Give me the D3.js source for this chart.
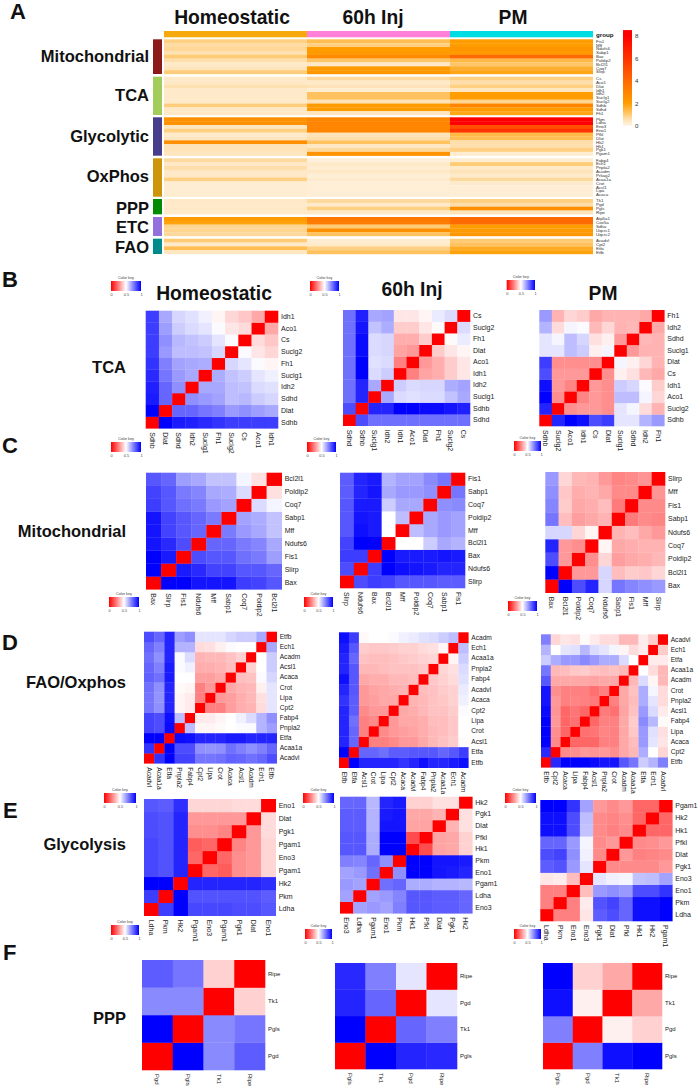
<!DOCTYPE html>
<meta charset="utf-8">
<style>
  body { margin: 0; background: #fff; }
  text { font-family: "Liberation Sans", Arial, sans-serif; fill: #111; }
  .lab { font-weight: bold; }
  .tick line, .domain { display: none; }
</style>
<body>
  <script src="https://d3js.org/d3.v7.min.js"></script>
  <div id="chart"></div>
  <script>
    // ---- panel A, expression per group of genes (order: top to bottom)
    var groupNames = ["Homeostatic", "60h Inj", "PM"]
    var mitoGenes = ["Fis1", "Mff", "Ndufs6", "Sabp1", "Bax", "Poldip2", "Bcl2l1", "Coq7", "Slirp"]
    var mitoHome = [0.9, 0.65, 0.75, 0.55, 1.0, 0.6, 0.3, 0.45, 0.95]
    var mitoInj = [1.3, 0.9, 2.0, 2.1, 2.8, 1.1, 0.3, 2.1, 2.2]
    var mitoPM = [2.0, 2.0, 2.3, 2.1, 4.0, 1.4, 1.1, 1.6, 1.8]
    var tcaGenes = ["Cs", "Aco1", "Dlat", "Idh1", "Idh2", "Suclg1", "Suclg2", "Sdhb", "Sdhd", "Fh1"]
    var tcaHome = [0.3, 0.35, 0.55, 0.3, 0.3, 0.3, 0.3, 0.95, 0.35, 0.35]
    var tcaInj = [0.7, 0.3, 0.5, 0.2, 1.2, 1.2, 0.5, 2.1, 2.1, 0.4]
    var tcaPM = [0.9, 0.6, 0.9, 0.4, 2.0, 2.0, 0.8, 3.0, 2.1, 1.8]
    var glyGenes = ["Pkm", "Ldha", "Eno3", "Eno1", "Pfkl", "Dlat", "Hk2", "Hk1", "Pgk1", "Pgam1"]
    var glyHome = [2.5, 2.5, 0.4, 0.9, 0.3, 0.4, 2.6, 0.5, 0.5, 0.4]
    var glyInj = [3.0, 3.0, 2.9, 3.0, 0.5, 0.6, 1.2, 0.35, 0.7, 2.4]
    var glyPM = [8.0, 8.0, 5.0, 6.0, 1.4, 1.3, 0.6, 0.6, 0.9, 0.2]
    var oxGenes = ["Fabp4", "Ech1", "Pnpla2", "Acadm", "Prkag2", "Acaa1a", "Crot", "Acsl1", "Lipa", "Acaca"]
    var oxHome = [0.7, 0.35, 0.6, 0.35, 0.35, 0.9, 0.2, 0.2, 0.2, 0.2]
    var oxInj = [0.1, 0.3, 0.2, 0.35, 0.15, 0.25, 0.15, 0.15, 0.15, 0.15]
    var oxPM = [0.2, 1.0, 0.3, 0.5, 0.3, 0.7, 0.25, 0.15, 0.15, 0.15]
    var pppGenes = ["Tk1", "Pgd", "Pgls", "Ripe"]
    var pppHome = [0.35, 0.3, 0.35, 0.3]
    var pppInj = [0.7, 0.3, 0.9, 0.3]
    var pppPM = [0.9, 0.6, 2.6, 0.5]
    var etcGenes = ["Atp5a1", "Cox5a", "Sdha", "Uqcrc1", "Uqcrc2"]
    var etcHome = [2.1, 1.9, 0.8, 0.8, 0.7]
    var etcInj = [3.4, 3.2, 1.0, 2.5, 1.2]
    var etcPM = [4.0, 4.0, 2.0, 2.1, 2.2]
    var faoGenes = ["Acadvl", "Cpt2", "Etfa", "Etfb"]
    var faoHome = [1.0, 0.3, 1.3, 0.4]
    var faoInj = [0.2, 0.3, 0.9, 1.2]
    var faoPM = [1.0, 1.2, 1.7, 1.9]
    var exprTicks = [0, 2, 4, 6, 8]
    var keyTicks = [0, 0.5, 1]

    // ---- panels B-F, correlation distance. Order is left to right on x and
    // bottom to top on y, the matrices are symmetric so only one half is kept
    var tcaOrder1 = ["Sdhb", "Dlat", "Sdhd", "Idh2", "Suclg1", "Fh1", "Suclg2", "Cs", "Aco1", "Idh1"]
    var tcaDist1 = [[], [1], [.95, .8], [.94, .8, .72], [.92, .77, .7, .67], [.9, .75, .68, .67, .66],
      [.88, .7, .63, .63, .62, .58], [.88, .72, .64, .62, .6, .55, .51],
      [.88, .69, .6, .57, .55, .51, .45, .43], [.88, .67, .58, .56, .53, .48, .42, .39, .33]]
    var tcaOrder2 = ["Sdhd", "Sdhb", "Suclg1", "Idh2", "Idh1", "Aco1", "Dlat", "Fh1", "Suclg2", "Cs"]
    var tcaDist2 = [[], [.85], [.78, .93], [.78, .93, .67], [.78, 1, .57, .6], [.78, 1, .56, .57, .25],
      [.78, .98, .57, .58, .32, .3], [.78, .98, .57, .58, .34, .34, .4],
      [.78, .96, .62, .66, .4, .4, .45, .49], [.78, .94, .67, .68, .45, .45, .48, .54, .57]]
    var tcaOrder3 = ["Sdhb", "Suclg2", "Aco1", "Idh1", "Cs", "Dlat", "Suclg1", "Sdhd", "Idh2", "Fh1"]
    var tcaDist3 = [[], [.93], [1, .28], [.97, .3, .26], [.85, .3, .3, .3], [.88, .28, .28, .28, .28],
      [.55, .55, .63, .6, .47, .52], [.55, .52, .63, .58, .44, .47, .3],
      [.65, .43, .52, .51, .36, .42, .35, .36], [.7, .35, .42, .4, .33, .35, .35, .35, .33]]

    var mitoOrder1 = ["Bax", "Slirp", "Fis1", "Ndufs6", "Mff", "Sabp1", "Coq7", "Poldip2", "Bcl2l1"]
    var mitoDist1 = [[], [1], [1, .95], [.96, .92, .85], [.96, .87, .83, .8], [.96, .87, .83, .8, .76],
      [.88, .83, .78, .76, .7, .68], [.87, .83, .76, .74, .67, .66, .57],
      [.83, .8, .69, .67, .62, .62, .52, .44]]
    var mitoOrder2 = ["Slirp", "Ndufs6", "Bax", "Bcl2l1", "Mff", "Poldip2", "Coq7", "Sabp1", "Fis1"]
    var mitoDist2 = [[], [.85], [.88, .88], [.87, 1, 1], [.83, .97, .95, .5], [.83, .96, .95, .5, .63],
      [.83, .95, .95, .6, .67, .67], [.82, .93, .96, .67, .7, .7, .72],
      [.82, .93, .95, .65, .68, .68, .73, .77]]
    var mitoOrder3 = ["Bax", "Bcl2l1", "Poldip2", "Coq7", "Ndufs6", "Sabp1", "Fis1", "Mff", "Slirp"]
    var mitoDist3 = [[], [1], [.85, .3], [.93, .3, .28], [.58, .58, .42, .48], [.77, .37, .31, .33, .35],
      [.74, .4, .33, .34, .37, .24], [.72, .39, .34, .35, .33, .27, .27],
      [.7, .42, .36, .35, .3, .26, .27, .29]]

    var faoOrder1 = ["Acadvl", "Acaa1a", "Etfa", "Pnpla2", "Fabp4", "Cpt2", "Lipa", "Crot", "Acaca", "Acsl1", "Acadm", "Ech1", "Etfb"]
    var faoDist1 = [[], [.9], [1, 1], [.87, .85, .98], [.87, .85, .97, .63], [.77, .72, .93, .48, .46],
      [.77, .71, .93, .48, .46, .25], [.78, .72, .93, .49, .48, .25, .3],
      [.81, .78, .95, .5, .5, .31, .31, .33], [.8, .75, .95, .51, .53, .34, .34, .35, .37],
      [.78, .72, .93, .51, .57, .35, .36, .36, .38, .41],
      [.8, .75, .93, .65, .65, .43, .44, .47, .51, .5, .5],
      [.85, .8, .93, .69, .72, .55, .55, .55, .58, .6, .6, .67]]
    var faoOrder2 = ["Etfb", "Etfa", "Acsl1", "Crot", "Lipa", "Cpt2", "Acaca", "Acadvl", "Fabp4", "Pnpla2", "Acaa1a", "Ech1", "Acadm"]
    var faoDist2 = [[], [1], [.93, .8], [.93, .8, .25], [.93, .78, .25, .27], [.93, .82, .27, .3, .3],
      [.9, .82, .3, .31, .33, .33], [.93, .83, .3, .32, .33, .34, .35],
      [.97, .83, .33, .34, .34, .36, .36, .37], [.93, .83, .36, .36, .37, .38, .38, .38, .39],
      [.93, .8, .38, .37, .37, .38, .39, .4, .41, .42],
      [.95, .83, .4, .39, .39, .4, .41, .41, .43, .44, .48],
      [.97, .88, .49, .5, .5, .51, .53, .54, .56, .57, .6, .63]]
    var faoOrder3 = ["Etfb", "Cpt2", "Acaca", "Lipa", "Fabp4", "Acsl1", "Pnpla2", "Crot", "Acadm", "Acaa1a", "Etfa", "Ech1", "Acadvl"]
    var faoDist3 = [[], [.92], [1, .27], [1, .28, .2], [1, .3, .2, .22], [.98, .29, .2, .23, .2],
      [.96, .3, .25, .26, .25, .24], [.96, .28, .25, .25, .25, .22, .25],
      [.83, .33, .33, .33, .33, .32, .33, .33], [.77, .36, .37, .39, .4, .38, .37, .38, .36],
      [.6, .66, .7, .7, .73, .7, .66, .66, .57, .5],
      [.65, .5, .55, .56, .64, .57, .55, .52, .48, .43, .46],
      [.75, .42, .45, .44, .49, .46, .43, .43, .36, .36, .46, .4]]

    // Pgam1 shows up twice in this panel, the trailing space keeps the band keys apart
    var glyOrder1 = ["Ldha", "Pkm", "Hk2", "Pgam1", "Eno3", "Pgam1 ", "Pgk1", "Dlat", "Eno1"]
    var glyDist1 = [[], [.88], [1, 1], [.86, .84, .93], [.86, .84, .93, .2], [.86, .84, .93, .18, .2],
      [.85, .84, .93, .28, .28, .26], [.85, .84, .93, .3, .3, .3, .3],
      [.83, .82, .91, .42, .42, .42, .43, .43]]
    var glyOrder2 = ["Eno3", "Ldha", "Pgam1", "Eno1", "Pkm", "Hk1", "Pfkl", "Dlat", "Pgk1", "Hk2"]
    var glyDist2 = [[], [.68], [.7, .68], [.68, .7, .78], [.75, .74, .8, .72], [.83, .83, .66, 1, 1],
      [.83, .83, .66, 1, 1, .15], [.82, .82, .65, .96, .96, .32, .32],
      [.82, .82, .65, .95, .96, .33, .33, .35], [.8, .8, .64, .93, .95, .41, .41, .44, .44]]
    var glyOrder3 = ["Ldha", "Pkm", "Eno1", "Eno3", "Pgk1", "Dlat", "Pfkl", "Hk1", "Hk2", "Pgam1"]
    var glyDist3 = [[], [.25], [.25, .25], [.45, .46, .37], [.82, .84, .7, .55], [.85, .87, .72, .53, .27],
      [.8, .8, .7, .52, .27, .3], [.97, .97, .85, .62, .27, .25, .27],
      [.97, .97, .85, .63, .27, .26, .28, .2], [1, 1, .9, .68, .3, .27, .3, .2, .2]]

    var pppOrder1 = ["Pgd", "Pgls", "Tk1", "Ripe"]
    var pppDist1 = [[], [1], [.73, .73], [.82, .77, .41]]
    var pppOrder2 = ["Pgls", "Tk1", "Pgd", "Ripe"]
    var pppDist2 = [[], [1], [.93, .8], [.92, .75, .55]]
    var pppOrder3 = ["Pgls", "Pgd", "Tk1", "Ripe"]
    var pppDist3 = [[], [.75], [.97, .47], [1, .41, .33]]

    var width = 700, height = 1090

    var svg = d3.select("#chart").append("svg")
      .attr("width", width).attr("height", height)
      .style("display", "block")

    var defs = svg.append("defs")

    // ---- colour scales
    var exprColor = d3.scaleLinear()
      .domain([0, 0.5, 1, 2, 4, 6, 8])
      .range(["#fef3e2", "#fee3b8", "#ffcb75", "#ff9d00", "#ff6a00", "#ff3300", "#ff0000"])
    var distColor = d3.scaleLinear()
      .domain([0, 0.5, 1])
      .range(["#ff0000", "#ffffff", "#0000ff"])

    // ---- panel letters and big titles
    var letters = [
      { t: "A", x: 10, y: 19 }, { t: "B", x: 2, y: 287 }, { t: "C", x: 2, y: 453 },
      { t: "D", x: 2, y: 650 }, { t: "E", x: 3, y: 818 }, { t: "F", x: 3, y: 960 }
    ]
    svg.selectAll(".letter").data(letters).enter().append("text")
      .attr("class", "lab letter")
      .attr("x", function (d) { return d.x })
      .attr("y", function (d) { return d.y })
      .style("font-size", "22px")
      .text(function (d) { return d.t })

    var titles = [
      { t: groupNames[0], x: 232, y: 24 }, { t: groupNames[1], x: 373, y: 24 }, { t: groupNames[2], x: 513, y: 24 },
      { t: groupNames[0], x: 214, y: 300 }, { t: groupNames[1], x: 412, y: 296 }, { t: groupNames[2], x: 603, y: 300 }
    ]
    svg.selectAll(".title").data(titles).enter().append("text")
      .attr("class", "lab title")
      .attr("x", function (d) { return d.x })
      .attr("y", function (d) { return d.y })
      .attr("text-anchor", "middle")
      .style("font-size", "19.3px")
      .text(function (d) { return d.t })

    var sideLabels = [
      { t: "TCA", y: 373 }, { t: "Mitochondrial", y: 537 }, { t: "FAO/Oxphos", y: 688 },
      { t: "Glycolysis", y: 850 }, { t: "PPP", y: 1024 }
    ]
    svg.selectAll(".side").data(sideLabels).enter().append("text")
      .attr("class", "lab side")
      .attr("x", 126)
      .attr("y", function (d) { return d.y })
      .attr("text-anchor", "end")
      .style("font-size", "16.5px")
      .text(function (d) { return d.t })

    // ---- panel A
    var heatGroups = [
      { name: "Mitochondrial", genes: mitoGenes, vals: [mitoHome, mitoInj, mitoPM], top: 39.3, bot: 74, color: "#8b1a1a", base: 62 },
      { name: "TCA", genes: tcaGenes, vals: [tcaHome, tcaInj, tcaPM], top: 76.7, bot: 115, color: "#a2cd5a", base: 101 },
      { name: "Glycolytic", genes: glyGenes, vals: [glyHome, glyInj, glyPM], top: 117.3, bot: 155.7, color: "#483d8b", base: 142 },
      { name: "OxPhos", genes: oxGenes, vals: [oxHome, oxInj, oxPM], top: 158.3, bot: 196.7, color: "#cd950c", base: 182 },
      { name: "PPP", genes: pppGenes, vals: [pppHome, pppInj, pppPM], top: 199, bot: 214.3, color: "#008b00", base: 214 },
      { name: "ETC", genes: etcGenes, vals: [etcHome, etcInj, etcPM], top: 217, bot: 236, color: "#9370db", base: 233 },
      { name: "FAO", genes: faoGenes, vals: [faoHome, faoInj, faoPM], top: 238.7, bot: 254, color: "#008b8b", base: 253 }
    ]

    var colX = d3.scaleBand().domain(groupNames).range([164, 593])
    var annotColor = d3.scaleOrdinal().domain(groupNames).range(["#f5a90c", "#ff80d8", "#00dde2"])

    var partA = svg.append("g")

    partA.selectAll(".annot").data(groupNames).enter().append("rect")
      .attr("x", function (d) { return colX(d) })
      .attr("y", 31)
      .attr("width", colX.bandwidth())
      .attr("height", 6.3)
      .attr("fill", function (d) { return annotColor(d) })

    partA.append("text").attr("class", "lab")
      .attr("x", 596).attr("y", 37).style("font-size", "6.2px").text("group")

    heatGroups.forEach(function (g) {
      var y = d3.scaleBand().domain(g.genes).range([g.top, g.bot])

      partA.append("rect")
        .attr("x", 153).attr("width", 9)
        .attr("y", g.top).attr("height", g.bot - g.top)
        .attr("fill", g.color)

      partA.append("text").attr("class", "lab")
        .attr("x", 149).attr("y", g.base)
        .attr("text-anchor", "end")
        .style("font-size", "16.5px")
        .text(g.name)

      groupNames.forEach(function (name, c) {
        partA.selectAll(null).data(g.genes).enter().append("rect")
          .attr("x", colX(name))
          .attr("y", function (d) { return y(d) })
          .attr("width", colX.bandwidth())
          .attr("height", y.bandwidth() + 0.2)
          .attr("fill", function (d, i) { return exprColor(g.vals[c][i]) })
      })

      var ax = partA.append("g")
        .attr("transform", "translate(593,0)")
        .call(d3.axisRight(y).tickSize(0).tickPadding(3))
      ax.attr("font-family", null)
      ax.selectAll("text").style("font-size", "4.4px").style("fill", "#333")
    })

    // expression colour bar
    var exprY = d3.scaleLinear().domain([0, 8]).range([125.7, 35.7])
    var exprGrad = defs.append("linearGradient").attr("id", "exprGrad")
      .attr("x1", 0).attr("x2", 0).attr("y1", 1).attr("y2", 0)
    d3.range(0, 8.51, 0.25).forEach(function (v) {
      exprGrad.append("stop").attr("offset", v / 8.5)
        .attr("stop-color", exprColor(Math.min(v, 8)))
    })
    partA.append("rect").attr("x", 623).attr("width", 9)
      .attr("y", exprY(8.5)).attr("height", exprY(0) - exprY(8.5))
      .attr("fill", "url(#exprGrad)")
    var exprAxis = partA.append("g")
      .attr("transform", "translate(632,0)")
      .call(d3.axisRight(exprY).tickValues(exprTicks).tickSize(0).tickPadding(3).tickFormat(d3.format("d")))
    exprAxis.attr("font-family", null)
    exprAxis.selectAll("text").style("font-size", "6.2px").style("fill", "#333")

    // ---- correlation panels
    function fillMatrix(half) {
      return half.map(function (row, i) {
        return half.map(function (_, j) {
          if (i === j) return 0
          return j < i ? half[i][j] : half[j][i]
        })
      })
    }

    function drawMatrix(p) {
      var matrix = fillMatrix(p.dist)
      var ids = p.order
      var x = d3.scaleBand().domain(ids).range([p.x0, p.x1])
      var y = d3.scaleBand().domain(ids).range([p.y1, p.y0])
      var g = svg.append("g")
      var cells = []
      matrix.forEach(function (row, i) {
        row.forEach(function (v, j) { cells.push({ row: ids[i], col: ids[j], v: v }) })
      })
      g.selectAll("rect").data(cells).enter().append("rect")
        .attr("x", function (d) { return x(d.col) })
        .attr("y", function (d) { return y(d.row) })
        .attr("width", x.bandwidth() + 0.3)
        .attr("height", y.bandwidth() + 0.3)
        .attr("fill", function (d) { return distColor(d.v) })

      var fs = (p.fs || 7) + "px"
      var right = g.append("g")
        .attr("transform", "translate(" + p.x1 + ",0)")
        .call(d3.axisRight(y).tickSize(0).tickPadding(3))
      right.attr("font-family", null)
      right.selectAll("text").style("font-size", fs).style("fill", "#222")

      var bottom = g.append("g")
        .attr("transform", "translate(0," + p.y1 + ")")
        .call(d3.axisBottom(x).tickSize(0).tickPadding(0))
      bottom.attr("font-family", null)
      bottom.selectAll("text")
        .style("font-size", fs).style("fill", "#222")
        .style("text-anchor", "start")
        .attr("dy", "0.35em").attr("x", 4).attr("y", 0)
        .attr("transform", "rotate(90)")
    }

    var panels = [
      { order: tcaOrder1, dist: tcaDist1, x0: 145.7, x1: 278, y0: 310.7, y1: 428.3 },
      { order: tcaOrder2, dist: tcaDist2, x0: 343, x1: 470, y0: 310, y1: 425.7 },
      { order: tcaOrder3, dist: tcaDist3, x0: 539.3, x1: 664.3, y0: 310, y1: 426 },
      { order: mitoOrder1, dist: mitoDist1, x0: 146, x1: 281.7, y0: 472.7, y1: 589.3 },
      { order: mitoOrder2, dist: mitoDist2, x0: 340, x1: 465, y0: 472.7, y1: 588 },
      { order: mitoOrder3, dist: mitoDist3, x0: 545.3, x1: 665, y0: 472, y1: 592.7 },
      { order: faoOrder1, dist: faoDist1, x0: 144, x1: 276.7, y0: 631.7, y1: 763.3, fs: 6.6 },
      { order: faoOrder2, dist: faoDist2, x0: 339, x1: 468.3, y0: 632.3, y1: 767.7, fs: 6.6 },
      { order: faoOrder3, dist: faoDist3, x0: 541, x1: 667.7, y0: 634.3, y1: 767.3, fs: 6.6 },
      { order: glyOrder1, dist: glyDist1, x0: 144, x1: 275.7, y0: 799, y1: 915.7 },
      { order: glyOrder2, dist: glyDist2, x0: 340, x1: 472.3, y0: 796.7, y1: 913.3 },
      { order: glyOrder3, dist: glyDist3, x0: 540.3, x1: 672.3, y0: 800, y1: 921 },
      { order: pppOrder1, dist: pppDist1, x0: 142, x1: 265, y0: 960, y1: 1070, fs: 6 },
      { order: pppOrder2, dist: pppDist2, x0: 335, x1: 457, y0: 963, y1: 1069, fs: 6 },
      { order: pppOrder3, dist: pppDist3, x0: 543, x1: 662, y0: 963, y1: 1069, fs: 6 }
    ]
    panels.forEach(drawMatrix)

    // ---- little colour keys
    var keyGrad = defs.append("linearGradient").attr("id", "keyGrad")
    distColor.domain().forEach(function (v) {
      keyGrad.append("stop").attr("offset", v).attr("stop-color", distColor(v))
    })

    var keys = [
      { x0: 111, x1: 141, y: 281 }, { x0: 310, x1: 339, y: 281 }, { x0: 506.7, x1: 535, y: 280 },
      { x0: 111, x1: 141, y: 442 }, { x0: 307, x1: 336, y: 442 }, { x0: 514, x1: 541, y: 441 },
      { x0: 109, x1: 139, y: 597 }, { x0: 304, x1: 333, y: 597 }, { x0: 508, x1: 537, y: 601 },
      { x0: 104, x1: 136, y: 793 }, { x0: 303, x1: 334, y: 793 }, { x0: 505, x1: 536, y: 793 },
      { x0: 111, x1: 139, y: 925 }, { x0: 305, x1: 332, y: 929 }, { x0: 514, x1: 541, y: 929 }
    ]
    keys.forEach(function (k) {
      var kx = d3.scaleLinear().domain([0, 1]).range([k.x0, k.x1])
      var g = svg.append("g")
      g.append("rect")
        .attr("x", k.x0).attr("y", k.y)
        .attr("width", k.x1 - k.x0).attr("height", 10)
        .attr("fill", "url(#keyGrad)")
      g.append("text")
        .attr("x", (k.x0 + k.x1) / 2).attr("y", k.y - 2.5)
        .attr("text-anchor", "middle")
        .style("font-size", "3.8px").style("fill", "#444")
        .text("Color key")
      var ax = g.append("g")
        .attr("transform", "translate(0," + (k.y + 10) + ")")
        .call(d3.axisBottom(kx).tickValues(keyTicks).tickSize(0).tickPadding(2).tickFormat(d3.format("")))
      ax.attr("font-family", null)
      ax.selectAll("text").style("font-size", "3.8px").style("fill", "#444")
    })
  </script>
</body>
